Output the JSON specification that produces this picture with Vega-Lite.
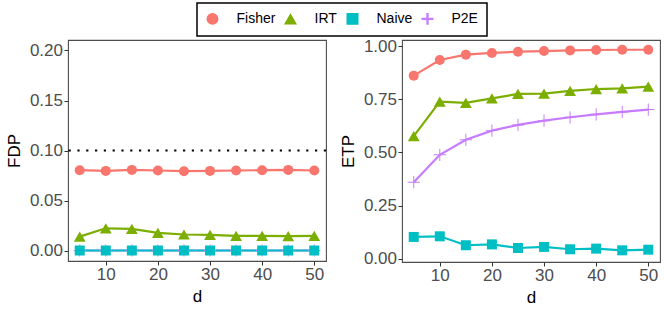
{
  "$schema": "https://vega.github.io/schema/vega-lite/v6.json",
  "background": "white",
  "padding": {"left": 4, "top": 2, "right": 5, "bottom": 5},
  "config": {
    "font": "Liberation Sans",
    "view": {"stroke": "#4d4d4d", "strokeWidth": 1.1},
    "axis": {
      "grid": false,
      "domain": false,
      "tickColor": "#333333",
      "tickSize": 4,
      "labelFont": "Liberation Sans",
      "labelFontSize": 17,
      "labelColor": "#4d4d4d",
      "titleFont": "Liberation Sans",
      "titleFontSize": 17,
      "titleFontWeight": "normal",
      "titleColor": "black",
      "labelPadding": 1.5,
      "titlePadding": 6
    },
    "legend": {
      "labelFont": "Liberation Sans",
      "labelFontSize": 14,
      "labelColor": "black"
    }
  },
  "datasets": {
    "res": [
      {"metric": "FDP", "method": "Fisher", "d": 5, "value": 0.0803},
      {"metric": "FDP", "method": "Fisher", "d": 10, "value": 0.0796},
      {"metric": "FDP", "method": "Fisher", "d": 15, "value": 0.0806},
      {"metric": "FDP", "method": "Fisher", "d": 20, "value": 0.0800},
      {"metric": "FDP", "method": "Fisher", "d": 25, "value": 0.0793},
      {"metric": "FDP", "method": "Fisher", "d": 30, "value": 0.0796},
      {"metric": "FDP", "method": "Fisher", "d": 35, "value": 0.0800},
      {"metric": "FDP", "method": "Fisher", "d": 40, "value": 0.0803},
      {"metric": "FDP", "method": "Fisher", "d": 45, "value": 0.0806},
      {"metric": "FDP", "method": "Fisher", "d": 50, "value": 0.0800},
      {"metric": "FDP", "method": "IRT", "d": 5, "value": 0.0139},
      {"metric": "FDP", "method": "IRT", "d": 10, "value": 0.0222},
      {"metric": "FDP", "method": "IRT", "d": 15, "value": 0.0216},
      {"metric": "FDP", "method": "IRT", "d": 20, "value": 0.0176},
      {"metric": "FDP", "method": "IRT", "d": 25, "value": 0.0160},
      {"metric": "FDP", "method": "IRT", "d": 30, "value": 0.0156},
      {"metric": "FDP", "method": "IRT", "d": 35, "value": 0.0146},
      {"metric": "FDP", "method": "IRT", "d": 40, "value": 0.0146},
      {"metric": "FDP", "method": "IRT", "d": 45, "value": 0.0143},
      {"metric": "FDP", "method": "IRT", "d": 50, "value": 0.0146},
      {"metric": "FDP", "method": "P2E", "d": 5, "value": 0.0},
      {"metric": "FDP", "method": "P2E", "d": 10, "value": 0.0},
      {"metric": "FDP", "method": "P2E", "d": 15, "value": 0.0},
      {"metric": "FDP", "method": "P2E", "d": 20, "value": 0.0},
      {"metric": "FDP", "method": "P2E", "d": 25, "value": 0.0},
      {"metric": "FDP", "method": "P2E", "d": 30, "value": 0.0},
      {"metric": "FDP", "method": "P2E", "d": 35, "value": 0.0},
      {"metric": "FDP", "method": "P2E", "d": 40, "value": 0.0},
      {"metric": "FDP", "method": "P2E", "d": 45, "value": 0.0},
      {"metric": "FDP", "method": "P2E", "d": 50, "value": 0.0},
      {"metric": "FDP", "method": "Naive", "d": 5, "value": 0.0},
      {"metric": "FDP", "method": "Naive", "d": 10, "value": 0.0},
      {"metric": "FDP", "method": "Naive", "d": 15, "value": 0.0},
      {"metric": "FDP", "method": "Naive", "d": 20, "value": 0.0},
      {"metric": "FDP", "method": "Naive", "d": 25, "value": 0.0},
      {"metric": "FDP", "method": "Naive", "d": 30, "value": 0.0},
      {"metric": "FDP", "method": "Naive", "d": 35, "value": 0.0},
      {"metric": "FDP", "method": "Naive", "d": 40, "value": 0.0},
      {"metric": "FDP", "method": "Naive", "d": 45, "value": 0.0},
      {"metric": "FDP", "method": "Naive", "d": 50, "value": 0.0},
      {"metric": "ETP", "method": "Fisher", "d": 5, "value": 0.862},
      {"metric": "ETP", "method": "Fisher", "d": 10, "value": 0.936},
      {"metric": "ETP", "method": "Fisher", "d": 15, "value": 0.961},
      {"metric": "ETP", "method": "Fisher", "d": 20, "value": 0.969},
      {"metric": "ETP", "method": "Fisher", "d": 25, "value": 0.975},
      {"metric": "ETP", "method": "Fisher", "d": 30, "value": 0.978},
      {"metric": "ETP", "method": "Fisher", "d": 35, "value": 0.981},
      {"metric": "ETP", "method": "Fisher", "d": 40, "value": 0.983},
      {"metric": "ETP", "method": "Fisher", "d": 45, "value": 0.984},
      {"metric": "ETP", "method": "Fisher", "d": 50, "value": 0.984},
      {"metric": "ETP", "method": "IRT", "d": 5, "value": 0.577},
      {"metric": "ETP", "method": "IRT", "d": 10, "value": 0.740},
      {"metric": "ETP", "method": "IRT", "d": 15, "value": 0.734},
      {"metric": "ETP", "method": "IRT", "d": 20, "value": 0.755},
      {"metric": "ETP", "method": "IRT", "d": 25, "value": 0.776},
      {"metric": "ETP", "method": "IRT", "d": 30, "value": 0.777},
      {"metric": "ETP", "method": "IRT", "d": 35, "value": 0.790},
      {"metric": "ETP", "method": "IRT", "d": 40, "value": 0.799},
      {"metric": "ETP", "method": "IRT", "d": 45, "value": 0.802},
      {"metric": "ETP", "method": "IRT", "d": 50, "value": 0.810},
      {"metric": "ETP", "method": "P2E", "d": 5, "value": 0.360},
      {"metric": "ETP", "method": "P2E", "d": 10, "value": 0.489},
      {"metric": "ETP", "method": "P2E", "d": 15, "value": 0.560},
      {"metric": "ETP", "method": "P2E", "d": 20, "value": 0.603},
      {"metric": "ETP", "method": "P2E", "d": 25, "value": 0.630},
      {"metric": "ETP", "method": "P2E", "d": 30, "value": 0.650},
      {"metric": "ETP", "method": "P2E", "d": 35, "value": 0.666},
      {"metric": "ETP", "method": "P2E", "d": 40, "value": 0.680},
      {"metric": "ETP", "method": "P2E", "d": 45, "value": 0.691},
      {"metric": "ETP", "method": "P2E", "d": 50, "value": 0.702},
      {"metric": "ETP", "method": "Naive", "d": 5, "value": 0.102},
      {"metric": "ETP", "method": "Naive", "d": 10, "value": 0.105},
      {"metric": "ETP", "method": "Naive", "d": 15, "value": 0.063},
      {"metric": "ETP", "method": "Naive", "d": 20, "value": 0.067},
      {"metric": "ETP", "method": "Naive", "d": 25, "value": 0.050},
      {"metric": "ETP", "method": "Naive", "d": 30, "value": 0.055},
      {"metric": "ETP", "method": "Naive", "d": 35, "value": 0.044},
      {"metric": "ETP", "method": "Naive", "d": 40, "value": 0.047},
      {"metric": "ETP", "method": "Naive", "d": 45, "value": 0.039},
      {"metric": "ETP", "method": "Naive", "d": 50, "value": 0.042}
    ],
    "ref": [{"level": 0.1}]
  },
  "spacing": 10,
  "resolve": {"scale": {"color": "shared", "shape": "shared"}, "legend": {"color": "shared", "shape": "shared"}},
  "hconcat": [
    {
      "width": 258,
      "height": 221,
      "layer": [
        {
          "data": {"name": "res"},
          "transform": [{"filter": "datum.metric === 'FDP'"}],
          "mark": {"type": "line", "strokeWidth": 2.2},
          "encoding": {
            "x": {"field": "d", "type": "quantitative", "scale": {"domain": [2.75, 52.25], "nice": false, "zero": false}, "axis": {"values": [10, 20, 30, 40, 50], "title": "d"}},
            "y": {"field": "value", "type": "quantitative", "scale": {"domain": [-0.0105, 0.2105], "nice": false, "zero": false}, "axis": {"values": [0, 0.05, 0.1, 0.15, 0.2], "format": ".2f", "title": "FDP"}},
            "color": {"field": "method", "type": "nominal", "scale": {"domain": ["Fisher", "IRT", "Naive", "P2E"], "range": ["#F8766D", "#7CAE00", "#00BFC4", "#C77CFF"]},
              "legend": {"orient": "none", "legendX": 129, "legendY": -37, "direction": "horizontal", "title": null, "strokeColor": "black", "padding": 8.5, "columnPadding": 6, "symbolSize": 110, "symbolOpacity": 1, "labelOffset": 17,
                "encode": {"legend": {"update": {"strokeWidth": {"value": 1.5}}}, "symbols": {"update": {"xOffset": {"value": 9}, "shape": {"signal": "datum.value === 'Fisher' ? 'M-1.62,-0.2L1.62,-0.2L1.62,0.2L-1.62,0.2Z M-1.05,0A1.05,1.05 0 1,1 1.05,0A1.05,1.05 0 1,1 -1.05,0Z' : datum.value === 'IRT' ? 'M-1.62,-0.2L1.62,-0.2L1.62,0.2L-1.62,0.2Z M0,-1.25L1.36,1.0L-1.36,1.0Z' : datum.value === 'Naive' ? 'M-1.62,-0.2L1.62,-0.2L1.62,0.2L-1.62,0.2Z M-1.05,-1.05L1.05,-1.05L1.05,1.05L-1.05,1.05Z' : 'M-1.62,-0.2L1.62,-0.2L1.62,0.2L-1.62,0.2Z M-0.1,-1.15L0.1,-1.15L0.1,1.15L-0.1,1.15Z M-1.15,-0.1L1.15,-0.1L1.15,0.1L-1.15,0.1Z'"}}}}}}
          }
        },
        {
          "data": {"name": "res"},
          "transform": [{"filter": "datum.metric === 'FDP' && datum.method === 'P2E'"}],
          "mark": {"type": "point", "filled": true, "opacity": 1, "size": 150},
          "encoding": {
            "x": {"field": "d", "type": "quantitative"},
            "y": {"field": "value", "type": "quantitative"},
            "color": {"field": "method", "type": "nominal"},
            "shape": {"field": "method", "type": "nominal", "scale": {"domain": ["Fisher", "IRT", "Naive", "P2E"], "range": ["circle", "triangle-up", "square", "M-1,-0.08L1,-0.08L1,0.08L-1,0.08Z M-0.08,-1L0.08,-1L0.08,1L-0.08,1Z"]},
              "legend": {"orient": "none", "legendX": 129, "legendY": -37, "direction": "horizontal", "title": null, "strokeColor": "black", "padding": 8.5, "columnPadding": 6, "symbolSize": 110, "symbolOpacity": 1, "labelOffset": 17,
                "encode": {"legend": {"update": {"strokeWidth": {"value": 1.5}}}, "symbols": {"update": {"xOffset": {"value": 9}, "shape": {"signal": "datum.value === 'Fisher' ? 'M-1.62,-0.2L1.62,-0.2L1.62,0.2L-1.62,0.2Z M-1.05,0A1.05,1.05 0 1,1 1.05,0A1.05,1.05 0 1,1 -1.05,0Z' : datum.value === 'IRT' ? 'M-1.62,-0.2L1.62,-0.2L1.62,0.2L-1.62,0.2Z M0,-1.25L1.36,1.0L-1.36,1.0Z' : datum.value === 'Naive' ? 'M-1.62,-0.2L1.62,-0.2L1.62,0.2L-1.62,0.2Z M-1.05,-1.05L1.05,-1.05L1.05,1.05L-1.05,1.05Z' : 'M-1.62,-0.2L1.62,-0.2L1.62,0.2L-1.62,0.2Z M-0.1,-1.15L0.1,-1.15L0.1,1.15L-0.1,1.15Z M-1.15,-0.1L1.15,-0.1L1.15,0.1L-1.15,0.1Z'"}}}}}}
          }
        },
        {
          "data": {"name": "res"},
          "transform": [{"filter": "datum.metric === 'FDP' && (datum.method === 'Fisher' || datum.method === 'Naive')"}],
          "mark": {"type": "point", "filled": true, "opacity": 1, "size": 100},
          "encoding": {
            "x": {"field": "d", "type": "quantitative"},
            "y": {"field": "value", "type": "quantitative"},
            "color": {"field": "method", "type": "nominal"},
            "shape": {"field": "method", "type": "nominal"}
          }
        },
        {
          "data": {"name": "res"},
          "transform": [{"filter": "datum.metric === 'FDP' && datum.method === 'IRT'"}],
          "mark": {"type": "point", "filled": true, "opacity": 1, "size": 140},
          "encoding": {
            "x": {"field": "d", "type": "quantitative"},
            "y": {"field": "value", "type": "quantitative"},
            "color": {"field": "method", "type": "nominal"},
            "shape": {"field": "method", "type": "nominal"}
          }
        },
        {
          "data": {"name": "ref"},
          "mark": {"type": "rule", "color": "black", "strokeWidth": 2.2, "strokeDash": [2.2, 6.6]},
          "encoding": {"y": {"field": "level", "type": "quantitative"}}
        }
      ]
    },
    {
      "width": 258,
      "height": 222,
      "layer": [
        {
          "data": {"name": "res"},
          "transform": [{"filter": "datum.metric === 'ETP'"}],
          "mark": {"type": "line", "strokeWidth": 2.2},
          "encoding": {
            "x": {"field": "d", "type": "quantitative", "scale": {"domain": [2.75, 52.25], "nice": false, "zero": false}, "axis": {"values": [10, 20, 30, 40, 50], "title": "d"}},
            "y": {"field": "value", "type": "quantitative", "scale": {"domain": [-0.016, 1.03], "nice": false, "zero": false}, "axis": {"values": [0, 0.25, 0.5, 0.75, 1], "format": ".2f", "title": "ETP"}},
            "color": {"field": "method", "type": "nominal"}
          }
        },
        {
          "data": {"name": "res"},
          "transform": [{"filter": "datum.metric === 'ETP' && datum.method === 'P2E'"}],
          "mark": {"type": "point", "filled": true, "opacity": 1, "size": 150},
          "encoding": {
            "x": {"field": "d", "type": "quantitative"},
            "y": {"field": "value", "type": "quantitative"},
            "color": {"field": "method", "type": "nominal"},
            "shape": {"field": "method", "type": "nominal"}
          }
        },
        {
          "data": {"name": "res"},
          "transform": [{"filter": "datum.metric === 'ETP' && (datum.method === 'Fisher' || datum.method === 'Naive')"}],
          "mark": {"type": "point", "filled": true, "opacity": 1, "size": 100},
          "encoding": {
            "x": {"field": "d", "type": "quantitative"},
            "y": {"field": "value", "type": "quantitative"},
            "color": {"field": "method", "type": "nominal"},
            "shape": {"field": "method", "type": "nominal"}
          }
        },
        {
          "data": {"name": "res"},
          "transform": [{"filter": "datum.metric === 'ETP' && datum.method === 'IRT'"}],
          "mark": {"type": "point", "filled": true, "opacity": 1, "size": 140},
          "encoding": {
            "x": {"field": "d", "type": "quantitative"},
            "y": {"field": "value", "type": "quantitative"},
            "color": {"field": "method", "type": "nominal"},
            "shape": {"field": "method", "type": "nominal"}
          }
        }
      ]
    }
  ]
}
